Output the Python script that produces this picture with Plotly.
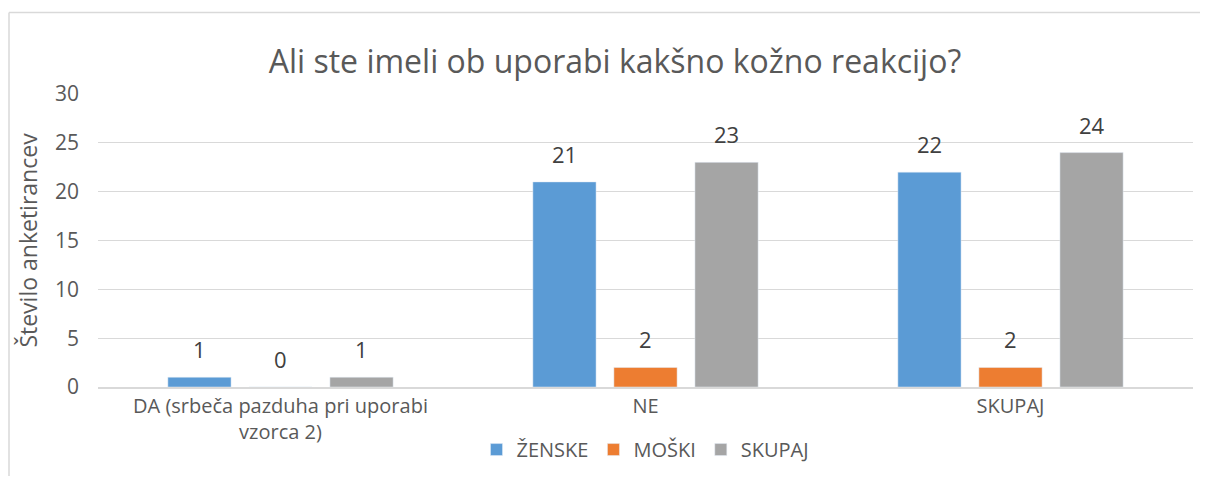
import plotly.graph_objects as go

categories = ["DA (srbeča pazduha pri uporabi<br>vzorca 2)", "NE", "SKUPAJ"]
zenske = [1, 21, 22]
moski = [0, 2, 2]
skupaj = [1, 23, 24]
series_names = ["ŽENSKE", "MOŠKI", "SKUPAJ"]
colors = ["#5B9BD5", "#ED7D31", "#A5A5A5"]

FONT = "Open Sans"
# page has ~8px body margin; figure sized to fit the window without scrolling
W, H = 1192, 468
L, R, T, B = 90, 7, 86, 87

fig = go.Figure()
for name, vals, col in zip(series_names, [zenske, moski, skupaj], colors):
    fig.add_trace(go.Bar(
        x=categories, y=vals, name=name, marker_color=col,
        offsetgroup=name,
    ))

pw = W - L - R
ph = H - T - B
def px_to_paper_x(px):
    return (px - L) / pw
def px_to_paper_y(py):
    return (H - B - py) / ph

# data labels as annotations placed above each bar (grouped offsets)
bargap, bargroupgap = 0.334, 0.22
ntr = 3
slot = (1 - bargap) / ntr
annotations = []
for ti, vals in enumerate([zenske, moski, skupaj]):
    off = -(1 - bargap) / 2 + slot * (ti + 0.5)
    for ci, v in enumerate(vals):
        annotations.append(dict(
            x=ci + off, y=v, xref="x", yref="y", text=str(v),
            showarrow=False, yanchor="bottom", xanchor="center", yshift=11,
            font=dict(family=FONT, size=22, color="#404040"),
        ))

fig.update_layout(
    width=W, height=H,
    margin=dict(l=L, r=R, t=T, b=B),
    paper_bgcolor="white", plot_bgcolor="white",
    barmode="group", bargap=bargap, bargroupgap=bargroupgap,
    title=dict(text="Ali ste imeli ob uporabi kakšno kožno reakcijo?",
               x=607 / W, xanchor="center", y=1 - 54 / H, yanchor="middle",
               font=dict(family=FONT, size=32, color="#595959")),
    font=dict(family=FONT, color="#595959"),
    xaxis=dict(showgrid=False, showline=True, linecolor="#d9d9d9", linewidth=1.5,
               ticks="", tickfont=dict(family=FONT, size=20, color="#595959")),
    yaxis=dict(range=[0, 30], dtick=5, showgrid=True, gridcolor="#d9d9d9",
               gridwidth=1, zeroline=False, ticks="", ticklabelstandoff=18,
               tickfont=dict(family=FONT, size=21, color="#595959"),
               title=dict(text="Število anketirancev", standoff=10,
                          font=dict(family=FONT, size=23, color="#595959"))),
    legend=dict(orientation="h", x=0.5, xanchor="center", y=px_to_paper_y(444),
                yanchor="middle", font=dict(family=FONT, size=20, color="#595959"),
                itemwidth=30, traceorder="normal"),
    annotations=annotations,
    shapes=[
        dict(type="line", xref="paper", yref="paper",
             x0=px_to_paper_x(1), x1=px_to_paper_x(1), y0=px_to_paper_y(500), y1=px_to_paper_y(4),
             line=dict(color="#d9d9d9", width=1.5), layer="below"),
        dict(type="line", xref="paper", yref="paper",
             x0=px_to_paper_x(1), x1=px_to_paper_x(1215), y0=px_to_paper_y(4), y1=px_to_paper_y(4),
             line=dict(color="#d9d9d9", width=1.5), layer="below"),
    ],
    showlegend=True,
)

fig.write_html("out.html")
